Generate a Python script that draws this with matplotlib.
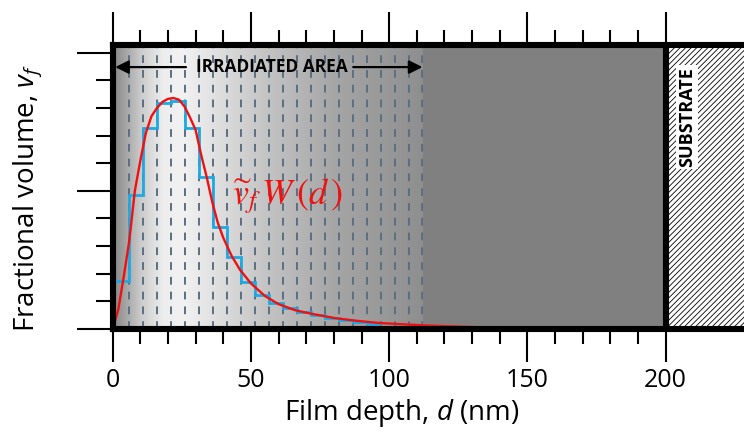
import numpy as np
import matplotlib.pyplot as plt
from matplotlib.colors import LinearSegmentedColormap

plt.rcParams['font.family'] = 'Open Sans'
plt.rcParams['mathtext.fontset'] = 'custom'
plt.rcParams['mathtext.rm'] = 'Open Sans'
plt.rcParams['mathtext.it'] = 'Open Sans:italic'
plt.rcParams['hatch.linewidth'] = 0.6

# bin edges of the layer model (nm), also the dashed lines
bin_edges = [0, 6, 11.05, 16.1, 21.15, 26.2, 31.25, 36.3, 41.35, 46.4, 51.45,
             56.5, 61.55, 66.6, 71.65, 76.7, 81.75, 86.8, 91.85, 96.9,
             101.95, 107.0, 112.05]
# stepwise fractional volume per layer
layer_vf = [0.174, 0.485, 0.729, 0.817, 0.826, 0.729, 0.551, 0.368, 0.259,
            0.171, 0.123, 0.095, 0.075, 0.062, 0.050, 0.040, 0.031, 0.024, 0.017]
# continuous profile v_f W(d)
depth = [0, 2, 4, 6, 8, 10, 12, 14, 16, 18, 20, 22, 24, 26, 28, 30, 32, 34, 36,
         38, 40, 43, 46, 50, 55, 60, 66, 72, 80, 88, 96, 105, 115, 130, 150,
         175, 200]
profile = [0, 0.07, 0.19, 0.32, 0.50, 0.61, 0.71, 0.77, 0.80, 0.822, 0.833,
           0.836, 0.83, 0.805, 0.765, 0.72, 0.63, 0.55, 0.46, 0.385, 0.33,
           0.265, 0.215, 0.165, 0.12, 0.09, 0.068, 0.055, 0.04, 0.03, 0.022,
           0.017, 0.012, 0.007, 0.004, 0.002, 0.001]
xticks_major = [0, 50, 100, 150, 200]
xticks_minor = [10, 20, 30, 40, 60, 70, 80, 90, 110, 120, 130, 140, 160, 170, 180, 190]
yticks_major = [0, 0.5, 1.0]
yticks_minor = [0.1, 0.2, 0.3, 0.4, 0.6, 0.7, 0.8, 0.9]

irr_end = 112.05
film_end = 200

fig = plt.figure(figsize=(7.44, 4.36), dpi=100)
ax = fig.add_axes([0.1515, 0.2454, 0.862, 0.6514])
ax.set_xlim(0, 232)
ax.set_ylim(0, 1.028)

# film background
ax.axvspan(0, film_end, color='#808080', lw=0, zorder=0)
stops = [0, 4 / 112, 10 / 112, 18 / 112, 25 / 112, 35 / 112, 55 / 112, 80 / 112, 1]
grays = [0.53, 0.64, 0.80, 0.93, 0.95, 0.89, 0.77, 0.65, 0.56]
cmap = LinearSegmentedColormap.from_list('shade', [(s, (g, g, g)) for s, g in zip(stops, grays)])
ax.imshow(np.linspace(0, 1, 400)[None, :], cmap=cmap, aspect='auto',
          extent=[0, irr_end, 0, 1.028], zorder=0.5, interpolation='bilinear')

# substrate
ax.axvspan(film_end, 232, facecolor='white', edgecolor='black', hatch='//////', lw=0, zorder=0)
ax.axvline(film_end, color='black', lw=4.4, zorder=3)

for x in bin_edges[1:]:
    ax.axvline(x, color='#5b6f82', lw=1.4, dashes=(4, 3.6), zorder=1)

ax.stairs(layer_vf, bin_edges[:len(layer_vf) + 1], baseline=None,
          color='#1ea9e3', lw=2.0, zorder=2)
ax.plot(depth, profile, color='#f01010', lw=1.7, zorder=2.2)

ax.text(43, 0.482, r'$\widetilde{v}_f\,W\,(d\,)$', color='#f01010', fontsize=26,
        math_fontfamily='stix', ha='left', va='center')

# irradiated area
ax.text(57.5, 0.948, 'IRRADIATED AREA', fontsize=12.5, fontweight='bold',
        ha='center', va='center')
arrow = dict(arrowstyle='-|>', color='black', lw=1.6, mutation_scale=20, shrinkA=0, shrinkB=0)
ax.annotate('', xy=(0.9, 0.948), xytext=(26.5, 0.948), arrowprops=arrow)
ax.annotate('', xy=(irr_end, 0.948), xytext=(87, 0.948), arrowprops=arrow)

ax.text(207.8, 0.767, 'SUBSTRATE', rotation=90, fontsize=13, fontweight='bold',
        ha='center', va='center',
        bbox=dict(facecolor='white', edgecolor='none', pad=1.5))

for s in ax.spines.values():
    s.set_linewidth(4.4)

ax.set_xticks(xticks_major)
ax.set_xticks(xticks_minor, minor=True)
ax.set_yticks(yticks_major)
ax.set_yticks(yticks_minor, minor=True)
ax.set_yticklabels([])
ax.tick_params(axis='x', which='both', top=True, bottom=True, direction='out', width=1.5)
ax.tick_params(axis='x', which='major', length=24, labelsize=18, pad=4)
ax.tick_params(axis='x', which='minor', length=11)
ax.tick_params(axis='y', which='both', direction='out', width=1.5)
ax.tick_params(axis='y', which='major', length=26)
ax.tick_params(axis='y', which='minor', length=12)

fig.text(402 / 744, 1 - 413 / 436, r'Film depth, $d$ (nm)', fontsize=20,
         ha='center', va='center')
fig.text(28 / 744, 1 - 198 / 436, r'Fractional volume, $v_f$', fontsize=20,
         rotation=90, ha='center', va='center')

fig.savefig('out.png', dpi=100)
